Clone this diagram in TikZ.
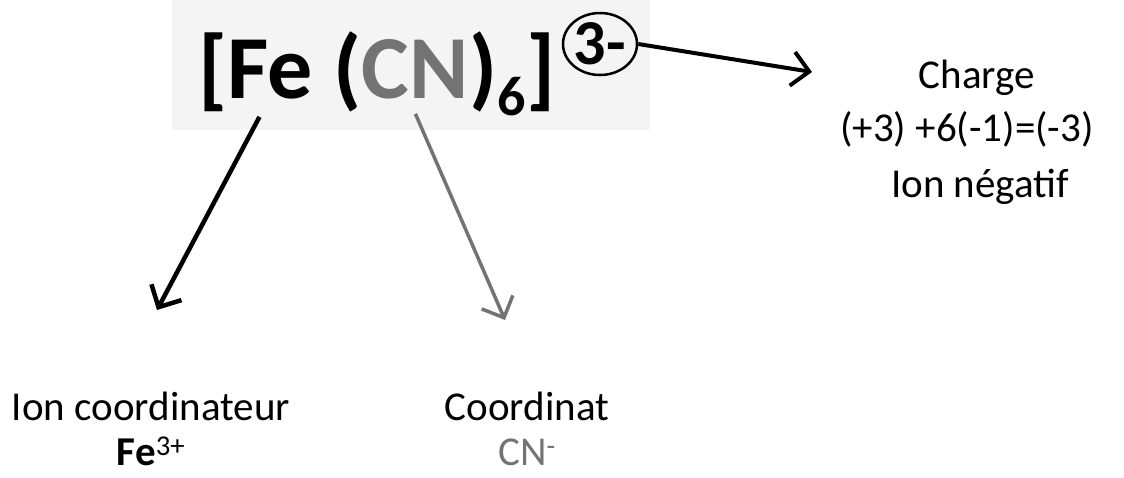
\documentclass[tikz,border=0pt]{standalone}
\usepackage{fontspec}
\setmainfont{Carlito}
\usetikzlibrary{arrows.meta,shapes.geometric}
\definecolor{cngray}{gray}{0.45}
\begin{document}
\begin{tikzpicture}[x=1pt,y=-1pt,
  big/.style={inner sep=0pt,anchor=base west,font=\fontsize{90}{90}\selectfont\bfseries},
  subsix/.style={inner sep=0pt,anchor=base west,font=\fontsize{56}{56}\selectfont\bfseries},
  lbl/.style={inner sep=0pt,anchor=base,font=\fontsize{41}{41}\selectfont},
  arr/.style={line width=4.5pt,-{Straight Barb[length=17pt,width=34pt]}},
]
\useasboundingbox (0,0) rectangle (1124,477);
\fill[gray!9] (172,0) rectangle (650,130);
% formula
\node[big] (lbr) at (198,98) {[};
\node[big] (fe) at (lbr.base east) {Fe};
\node[big] (lpar) at ([xshift=20pt]fe.base east) {(};
\node[big,text=cngray] (cn) at (lpar.base east) {CN};
\node[big] (rpar) at (cn.base east) {)};
\node[subsix] (six) at ([yshift=-17pt]rpar.base east) {6};
\node[big] (rbr) at ([yshift=17pt]six.base east) {]};
\node[draw,ellipse,line width=2.5pt,inner sep=0pt,minimum width=74pt,minimum height=62pt,
      font=\fontsize{64}{64}\selectfont\bfseries] (charge3) at (600,44) {3-};
% arrow ends
\coordinate (s1) at ([xshift=-11pt,yshift=-18pt]fe.south);
\coordinate (t1) at (157,310);
\coordinate (s2) at ([yshift=-15pt]cn.south);
\coordinate (t2) at (505,320);
\coordinate (t3) at (812,72);
\draw[arr] (s1) -- (t1);
\draw[arr,cngray,line width=3.5pt] (s2) -- (t2);
\draw[arr,line width=4pt] (charge3.east) -- (t3);
% labels
\node[lbl] (ch1) at (977,88) {Charge};
\node[lbl] (ch2) at (967,141) {(+3) +6(-1)=(-3)};
\node[lbl] (ch3) at (980,197) {Ion négatif};
\node[lbl] (ioncoord) at (151,420) {Ion coordinateur};
\node[lbl] (fe3) at (151,465) {\textbf{Fe}\textsuperscript{3+}};
\node[lbl] (coordinat) at (527,420) {Coordinat};
\node[lbl,text=cngray] (cnminus) at (527,465) {CN\textsuperscript{-}};
\end{tikzpicture}
\end{document}
